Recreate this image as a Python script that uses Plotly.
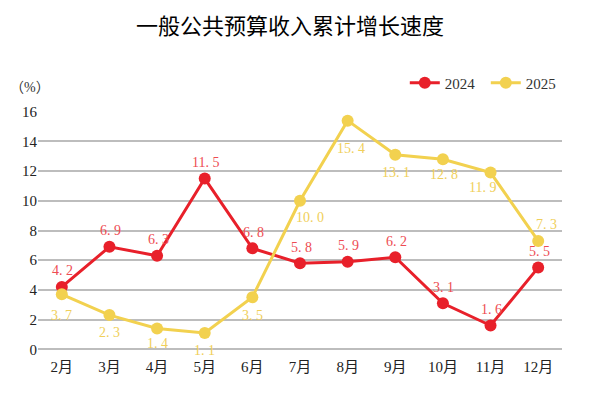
import plotly.graph_objects as go

months = ["2月", "3月", "4月", "5月", "6月", "7月", "8月", "9月", "10月", "11月", "12月"]
v2024 = [4.2, 6.9, 6.3, 11.5, 6.8, 5.8, 5.9, 6.2, 3.1, 1.6, 5.5]
v2025 = [3.7, 2.3, 1.4, 1.1, 3.5, 10.0, 15.4, 13.1, 12.8, 11.9, 7.3]
yticks = [0, 2, 4, 6, 8, 10, 12, 14, 16]

# label offsets in pixels (style only)
dx2025 = [0, 0, 0, 0, 0, 10, 3, 1, 1, -8, 8]
dy2025 = [-21, -17, -15, -18, -18, -17, -28, -18, -15, -15, 16]

RED = "#e8202a"
YEL = "#f2d14f"
RED_T = "#ee4c52"
YEL_T = "#f0cf5a"

def fmt(v):
    return f"{v:.1f}".replace(".", ". ")

fig = go.Figure()
fig.add_trace(go.Scatter(
    x=months, y=v2024, name="2024", mode="lines+markers",
    line=dict(color=RED, width=3), marker=dict(color=RED, size=12),
))
fig.add_trace(go.Scatter(
    x=months, y=v2025, name="2025", mode="lines+markers",
    line=dict(color=YEL, width=3), marker=dict(color=YEL, size=12),
))

annos = []
lab_font = "Liberation Serif, Noto Sans CJK SC"
for m, v in zip(months, v2024):
    annos.append(dict(x=m, y=v, text=fmt(v), showarrow=False, yshift=16,
                      xshift=1, font=dict(color=RED_T, size=14, family=lab_font)))
for m, v, dx, dy in zip(months, v2025, dx2025, dy2025):
    annos.append(dict(x=m, y=v, text=fmt(v), showarrow=False,
                      yshift=dy, xshift=dx,
                      font=dict(color=YEL_T, size=14, family=lab_font)))
annos.append(dict(text="（%）", xref="paper", yref="paper", x=-0.015, y=1.1,
                  xanchor="center", yanchor="middle", showarrow=False,
                  font=dict(size=14, color="#333", family="Liberation Serif, Noto Sans CJK SC")))

fig.update_layout(
    width=601, height=396,
    margin=dict(l=38, r=39, t=111, b=46, autoexpand=False),
    paper_bgcolor="white", plot_bgcolor="white",
    font=dict(family="Liberation Serif, Noto Sans CJK SC", color="#222", size=15),
    title=dict(text="一般公共预算收入累计增长速度", x=290 / 601, xanchor="center",
               y=0.934, yanchor="middle", yref="container", xref="container",
               font=dict(family="Noto Sans CJK SC", size=22, color="#000")),
    showlegend=True,
    legend=dict(orientation="h", x=0.7, xanchor="left", y=1.117, yanchor="middle",
                font=dict(size=15, color="#333"), itemwidth=30, tracegroupgap=0,
                entrywidth=36, entrywidthmode="pixels"),
    xaxis=dict(showgrid=False, showline=False, zeroline=False, ticks="",
               tickfont=dict(size=15), range=[-0.5, 10.5], ticklabelstandoff=6),
    yaxis=dict(range=[-0.05, 16.05], tickvals=yticks, showgrid=True,
               gridcolor="#bdbdbd", gridwidth=1.5, zeroline=True,
               zerolinecolor="#bdbdbd", zerolinewidth=1.5, showline=False,
               ticks="", tickfont=dict(size=15)),
    annotations=annos,
)

fig.write_html("out.html", post_script="document.body.style.margin='0';",
               config={"displayModeBar": False})
